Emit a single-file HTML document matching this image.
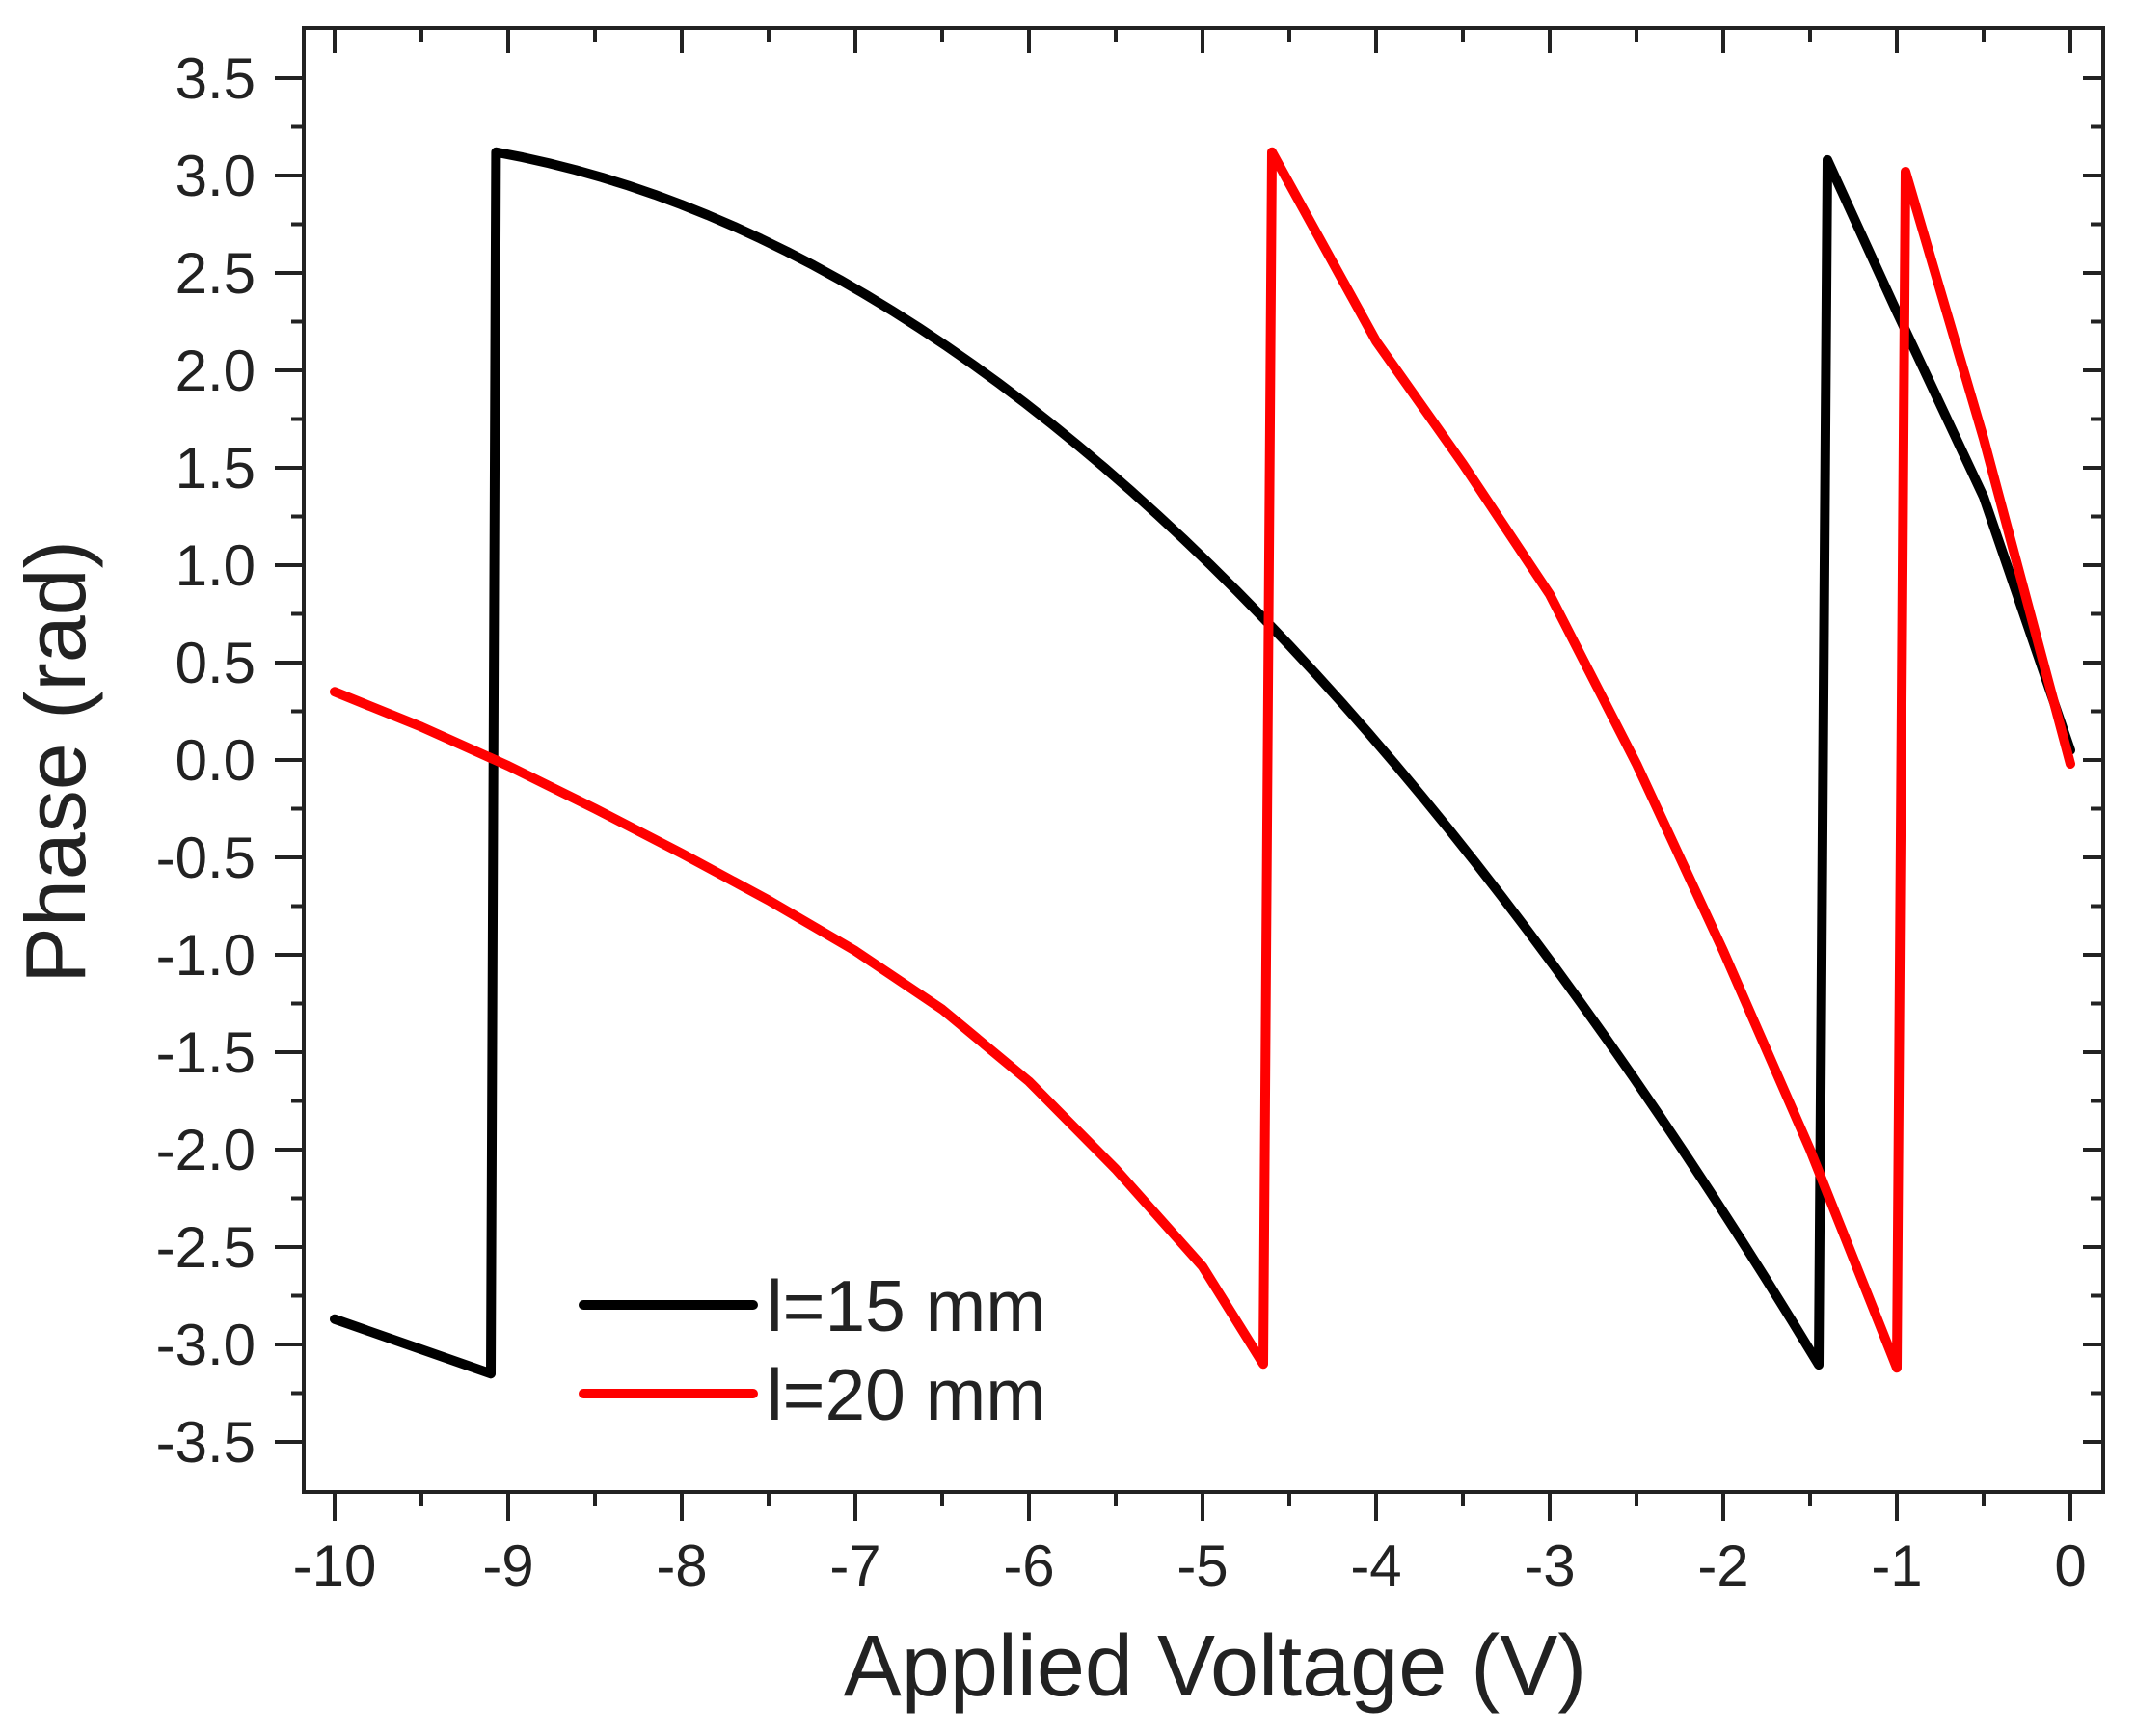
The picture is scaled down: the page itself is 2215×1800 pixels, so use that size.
<!DOCTYPE html>
<html><head><meta charset="utf-8"><style>
html,body{margin:0;padding:0;background:#fff;}
svg{display:block;}
text{font-family:"Liberation Sans",sans-serif;fill:#222;}
</style></head><body>
<svg width="2215" height="1800" viewBox="0 0 2215 1800" xmlns="http://www.w3.org/2000/svg">
<rect width="2215" height="1800" fill="#fff"/>
<g stroke="#222" stroke-width="4" fill="none">
<rect x="315" y="29" width="1866" height="1518"/>
</g>
<g id="ticks" stroke="#222" stroke-width="4"></g>
<g id="labels" font-size="60"></g>
<text x="1260" y="1758" font-size="90" text-anchor="middle">Applied Voltage (V)</text>
<text transform="translate(88,790) rotate(-90)" font-size="88" text-anchor="middle">Phase (rad)</text>
<g fill="none" stroke-width="10" stroke-linejoin="round" stroke-linecap="round">
<polyline id="blk" stroke="#000"/>
<polyline id="red" stroke="#f00"/>
</g>
<line x1="605" y1="1353" x2="781" y2="1353" stroke="#000" stroke-width="10" stroke-linecap="round"/>
<line x1="605" y1="1445" x2="781" y2="1445" stroke="#f00" stroke-width="10" stroke-linecap="round"/>
<text x="795" y="1380" font-size="75">l=15 mm</text>
<text x="795" y="1472" font-size="75">l=20 mm</text>
</svg>
<script>
var X=v=>2147+180*v, Y=v=>788-202*v;
var t='',l='';
for(var i=-7;i<=7;i++){var v=i/2,y=Y(v);
 t+=`<line x1="285" y1="${y}" x2="315" y2="${y}"/>`;
 l+=`<text x="265" y="${y+21}" text-anchor="end">${v.toFixed(1)}</text>`;
 t+=`<line x1="2181" y1="${y}" x2="2160" y2="${y}"/>`;
 if(i<7){var ym=Y(v+0.25);t+=`<line x1="302" y1="${ym}" x2="315" y2="${ym}"/><line x1="2181" y1="${ym}" x2="2168" y2="${ym}"/>`;}
}
for(var k=-10;k<=0;k++){var x=X(k);
 t+=`<line x1="${x}" y1="1547" x2="${x}" y2="1577"/><line x1="${x}" y1="29" x2="${x}" y2="55"/>`;
 l+=`<text x="${x}" y="1644" text-anchor="middle">${k}</text>`;
 if(k<0){var xm=X(k+0.5);t+=`<line x1="${xm}" y1="1547" x2="${xm}" y2="1562"/><line x1="${xm}" y1="29" x2="${xm}" y2="44"/>`;}
}
document.getElementById('ticks').innerHTML=t;
document.getElementById('labels').innerHTML=l;
function pts(a){return a.map(p=>X(p[0])+','+Y(p[1])).join(' ');}
var b=[[-10,-2.87],[-9.1,-3.15]];
for(var j=0;j<=50;j++){var s=7.62*j/50;b.push([-9.07+s,3.12-0.160*s-0.0862*s*s]);}
b.push([-1.4,3.08],[-1,2.3],[-0.5,1.35],[0,0.05]);
document.getElementById('blk').setAttribute('points',pts(b));
document.getElementById('red').setAttribute('points',pts([[-10,0.35],[-9.5,0.17],[-9,-0.03],[-8.5,-0.25],[-8,-0.48],[-7.5,-0.72],[-7,-0.98],[-6.5,-1.28],[-6,-1.65],[-5.5,-2.1],[-5,-2.6],[-4.65,-3.1],[-4.6,3.12],[-4,2.15],[-3.5,1.52],[-3,0.85],[-2.5,-0.02],[-2,-0.98],[-1.5,-2.0],[-1,-3.12],[-0.95,3.02],[-0.5,1.65],[0,-0.02]]));
</script>
</body></html>
